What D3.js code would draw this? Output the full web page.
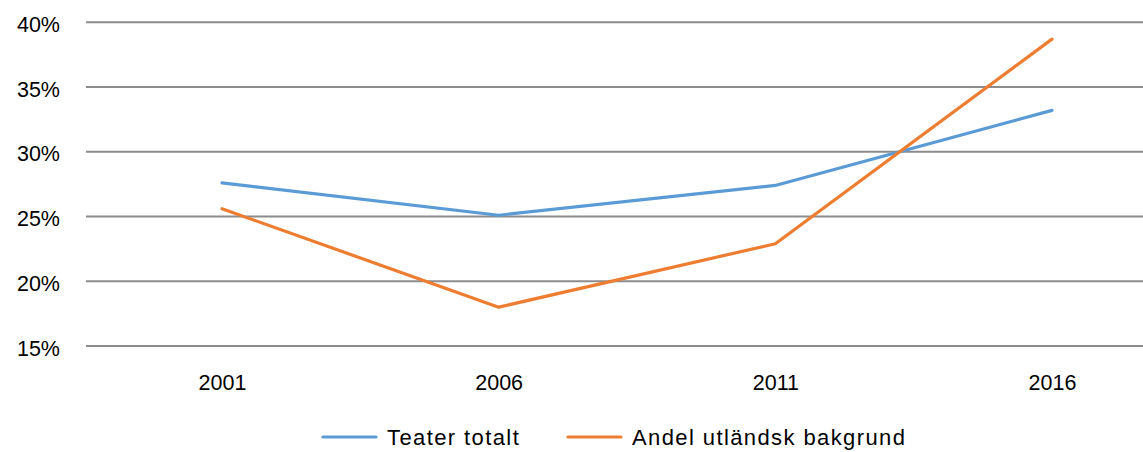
<!DOCTYPE html>
<html>
<head>
<meta charset="utf-8">
<script src="https://cdn.jsdelivr.net/npm/d3@7"></script>
<style>
  body { margin: 0; background: #fff; }
  text { font-family: "Liberation Sans", "DejaVu Sans", sans-serif; fill: #000; }
</style>
</head>
<body>
<figure id="chart" style="margin:0"></figure>
<script>
const years = ["2001", "2006", "2011", "2016"];
const teaterTotalt = [27.6, 25.1, 27.4, 33.2];
const andelUtlandsk = [25.6, 18.0, 22.9, 38.7];
const yTicks = [15, 20, 25, 30, 35, 40];
const seriesNames = ["Teater totalt", "Andel utländsk bakgrund"];
const colors = ["#5B9BD5", "#ED7D31"];

const width = 1143, height = 452;

const svg = d3.select("figure#chart")
  .append("svg")
  .attr("width", width)
  .attr("height", height);

// Scales
const x = d3.scalePoint()
  .domain(years)
  .range([222, 1052]);

const y = d3.scaleLinear()
  .domain([15, 40])
  .range([346, 22.3]);

// Gridlines
svg.append("g")
  .selectAll("line")
  .data(yTicks)
  .enter()
  .append("line")
  .attr("x1", 86)
  .attr("x2", width)
  .attr("y1", d => y(d))
  .attr("y2", d => y(d))
  .style("stroke", "#8c8c8c")
  .style("stroke-width", 2);

// Y axis labels
const yAxis = svg.append("g")
  .attr("transform", "translate(60,0)")
  .call(d3.axisLeft(y).tickValues(yTicks).tickSize(0).tickPadding(0).tickFormat(d => d + "%"));
yAxis.select(".domain").remove();
yAxis.selectAll("text")
  .style("font-size", "21.5px")
  .style("font-family", "'Liberation Sans', sans-serif")
  .attr("dy", "0.42em")
  .attr("fill", "#000");

// X axis labels
const xAxis = svg.append("g")
  .attr("transform", "translate(0,375)")
  .call(d3.axisBottom(x).tickSize(0).tickPadding(0));
xAxis.select(".domain").remove();
xAxis.selectAll("text")
  .style("font-size", "21.5px")
  .style("font-family", "'Liberation Sans', sans-serif")
  .attr("fill", "#000");

// Lines
const line = d3.line()
  .x((d, i) => x(years[i]))
  .y(d => y(d));

[teaterTotalt, andelUtlandsk].forEach((values, i) => {
  svg.append("path")
    .datum(values)
    .attr("d", line)
    .style("fill", "none")
    .style("stroke", colors[i])
    .style("stroke-width", 3.2)
    .style("stroke-linecap", "round")
    .style("stroke-linejoin", "round");
});

// Legend
const legendX = [323, 568];
const legend = svg.append("g");
seriesNames.forEach((name, i) => {
  legend.append("line")
    .attr("x1", legendX[i])
    .attr("x2", legendX[i] + 53)
    .attr("y1", 437)
    .attr("y2", 437)
    .style("stroke", colors[i])
    .style("stroke-width", 3.2)
    .style("stroke-linecap", "round");
  legend.append("text")
    .attr("x", legendX[i] + 64)
    .attr("y", 444.5)
    .text(name)
    .style("font-size", "22px")
    .style("letter-spacing", "1.4px");
});
</script>
</body>
</html>
